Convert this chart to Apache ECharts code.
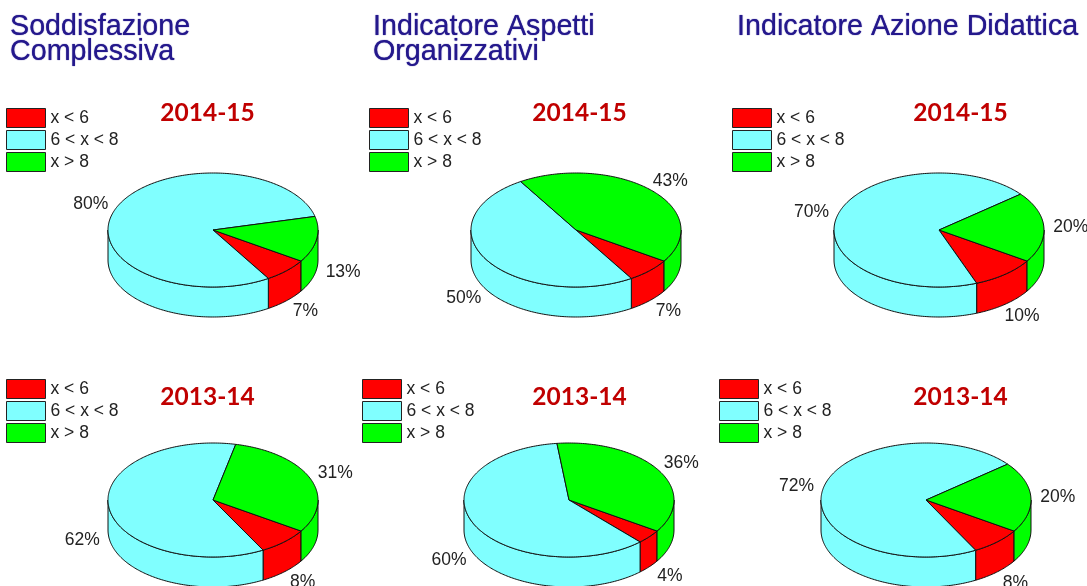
<!DOCTYPE html>
<html>
<head>
<meta charset="utf-8">
<title>Indicatori</title>
<style>
    html, body { margin: 0; padding: 0; background: #fff; }
    #chart { width: 1087px; height: 586px; }
</style>
<script src="https://cdn.jsdelivr.net/npm/echarts@6/dist/echarts.min.js"></script>
</head>
<body>
<div id="chart"></div>
<script>
// dati
var classes = ['x < 6', '6 < x < 8', 'x > 8'];
var headers = ['Soddisfazione\nComplessiva', 'Indicatore Aspetti\nOrganizzativi', 'Indicatore Azione Didattica'];
var years = ['2014-15', '2014-15', '2014-15', '2013-14', '2013-14', '2013-14'];
var lowValues = [7, 7, 10, 8, 4, 8];
var midValues = [80, 50, 70, 62, 60, 72];
var highValues = [13, 43, 20, 31, 36, 20];

// layout
var colors = ['#ff0000', '#80ffff', '#00ff00'];
var pieCenters = [[213, 230], [576, 230], [939, 230], [213, 500], [569, 500], [926, 500]];
var legendPos = [[6, 108], [369, 108], [732, 108], [6, 379], [362, 379], [719, 379]];
var yearPos = [[207.5, 113], [579.5, 113], [960.5, 113], [207.5, 397], [579.5, 397], [960.5, 397]];
var headerPos = [[10, 15], [373, 15], [737, 15]];
var RX = 105, RY = 57, DEPTH = 30;
var START_ANGLE = 33;  // gradi, in senso orario da destra
var allValues = [lowValues, midValues, highValues];

function pt(c, deg, dy) {
    var a = deg * Math.PI / 180;
    return [c[0] + RX * Math.cos(a), c[1] + RY * Math.sin(a) + (dy || 0)];
}

function arc(c, from, to, dy) {
    var pts = [], n = Math.max(2, Math.ceil(Math.abs(to - from)));
    for (var i = 0; i <= n; i++) {
        pts.push(pt(c, from + (to - from) * i / n, dy));
    }
    return pts;
}

// parte visibile della parete laterale (fronte: da 0 a 180 gradi)
function wall(c, from, to, out) {
    [[0, 180], [360, 540]].forEach(function(r) {
        var a = Math.max(from, r[0]), b = Math.min(to, r[1]);
        if (b > a) {
            out.push({
                type: 'polygon',
                z2: 1,
                shape: { points: arc(c, a, b, 0).concat(arc(c, b, a, DEPTH)) },
                style: { fill: out.color, stroke: '#111', lineWidth: 1 }
            });
        }
    });
}

function renderSlice(k) {
    return function(params, api) {
        var p = api.value(0);
        var value = api.value(1);
        var total = lowValues[p] + midValues[p] + highValues[p];
        var before = 0;
        for (var j = 0; j < k; j++) before += allValues[j][p];
        var from = START_ANGLE + before / total * 360;
        var to = from + value / total * 360;
        var mid = (from + to) / 2 * Math.PI / 180;
        var c = pieCenters[p];
        var children = [];
        children.color = colors[k];
        wall(c, from, to, children);
        children.push({
            type: 'polygon',
            z2: 2,
            shape: { points: [c].concat(arc(c, from, to, 0)) },
            style: { fill: colors[k], stroke: '#111', lineWidth: 1 }
        });
        children.push({
            type: 'text',
            z2: 3,
            style: {
                text: value + '%',
                x: c[0] + 132 * Math.cos(mid),
                y: c[1] + 71 * Math.sin(mid) + (Math.sin(mid) > 0 ? 30.5 : 0.5),
                fill: '#222',
                font: '17.5px "Liberation Sans"',
                align: 'center',
                verticalAlign: 'middle'
            }
        });
        return { type: 'group', children: children };
    };
}

var titles = [];
headers.forEach(function(h, i) {
    titles.push({
        text: h,
        left: headerPos[i][0],
        top: headerPos[i][1],
        padding: 0,
        textStyle: {
            color: '#24188c',
            fontFamily: 'Liberation Sans',
            fontWeight: 'normal',
            fontSize: 28.7,
            lineHeight: 25,
            textShadowColor: '#24188c',
            textShadowBlur: 1
        }
    });
});
years.forEach(function(y, i) {
    titles.push({
        text: y,
        left: yearPos[i][0],
        top: yearPos[i][1] - 15,
        padding: 0,
        textAlign: 'center',
        textStyle: {
            color: '#c00000',
            fontFamily: 'Lato',
            fontWeight: 'bold',
            fontSize: 24.5,
            lineHeight: 30
        }
    });
});

var legends = legendPos.map(function(pos) {
    return {
        data: classes,
        left: pos[0],
        top: pos[1],
        padding: 0,
        orient: 'vertical',
        icon: 'rect',
        itemWidth: 39,
        itemHeight: 19,
        itemGap: 2,
        selectedMode: false,
        itemStyle: { borderColor: '#222', borderWidth: 1 },
        textStyle: {
            color: '#222',
            fontFamily: 'Liberation Sans',
            fontSize: 17.5,
            lineHeight: 18,
            padding: [0, 0, 0, 0]
        }
    };
});

var series = classes.map(function(name, k) {
    return {
        type: 'custom',
        name: name,
        coordinateSystem: 'none',
        silent: true,
        clip: false,
        itemStyle: { color: colors[k] },
        data: allValues[k].map(function(v, p) { return [p, v]; }),
        renderItem: renderSlice(k)
    };
});

var chart = echarts.init(document.getElementById('chart'));
chart.setOption({
    backgroundColor: '#fff',
    animation: false,
    title: titles,
    legend: legends,
    series: series
});
</script>
</body>
</html>
